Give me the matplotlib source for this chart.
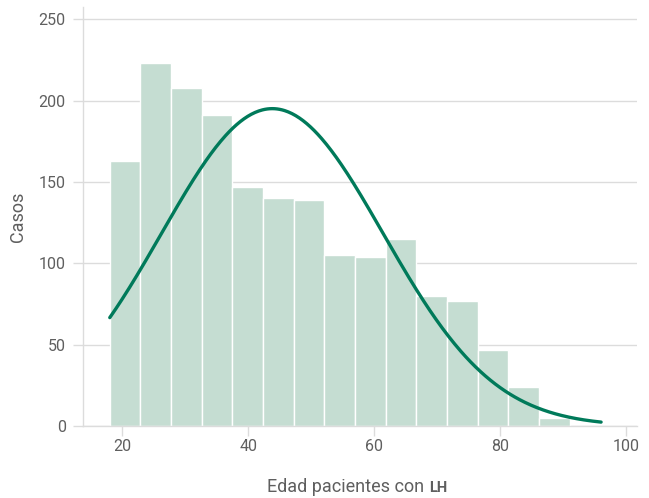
import numpy as np
import matplotlib
matplotlib.use("Agg")
import matplotlib.pyplot as plt
from matplotlib.offsetbox import TextArea, HPacker, AnchoredOffsetbox

plt.rcParams['font.family'] = ['Roboto', 'DejaVu Sans']

# Histogram of patient ages: 15 equal bins between 18 and 91 years
bin_start = 18.0
bin_end = 91.0
counts = [163, 223, 208, 191, 147, 140, 139, 105, 104, 115, 80, 77, 47, 24, 5]

# Fitted normal curve parameters
fit_mean = 43.8
fit_sd = 17.6
curve_from = 18.0
curve_to = 96.0

x_ticks = [20, 40, 60, 80, 100]
y_ticks = [0, 50, 100, 150, 200, 250]

bar_color = "#c5ddd2"
line_color = "#007a5a"
grid_color = "#dcdcdc"
text_color = "#5f5f5f"

edges = np.linspace(bin_start, bin_end, len(counts) + 1)
width = edges[1] - edges[0]
n_total = sum(counts)

fig = plt.figure(figsize=(6.49, 4.98), dpi=100)
ax = fig.add_axes([83 / 649, 1 - 426 / 498, (637 - 83) / 649, (426 - 7) / 498])

ax.bar(edges[:-1], counts, width=width, align="edge", color=bar_color,
       edgecolor="white", linewidth=1.0, zorder=2)

xs = np.linspace(curve_from, curve_to, 400)
ys = n_total * width / (fit_sd * np.sqrt(2 * np.pi)) * np.exp(-0.5 * ((xs - fit_mean) / fit_sd) ** 2)
ax.plot(xs, ys, color=line_color, linewidth=2.4, zorder=3, solid_capstyle="round")

ax.set_xlim(13.75, 101.7)
ax.set_ylim(0, 257.5)
ax.set_xticks(x_ticks)
ax.set_yticks(y_ticks)
ax.yaxis.grid(True, color=grid_color, linewidth=1.0, zorder=0)
ax.set_axisbelow(True)

for side in ("top", "right"):
    ax.spines[side].set_visible(False)
for side in ("left", "bottom"):
    ax.spines[side].set_color(grid_color)
    ax.spines[side].set_linewidth(1.0)

ax.tick_params(axis="both", colors=grid_color, length=7, width=1.0,
               labelcolor=text_color, labelsize=11.5)
ax.tick_params(axis="y", pad=5.5)
ax.tick_params(axis="x", pad=2)

ax.set_ylabel("Casos", color=text_color, fontsize=13, labelpad=8)

# x label with small-caps style abbreviation
part1 = TextArea("Edad pacientes con ", textprops=dict(color=text_color, fontsize=13))
part2 = TextArea("LH", textprops=dict(color=text_color, fontsize=10.5, fontweight="bold"))
box = HPacker(children=[part1, part2], align="baseline", pad=0, sep=0)
anchored = AnchoredOffsetbox(loc="center", child=box, frameon=False,
                             bbox_to_anchor=(357 / 649, 1 - 487 / 498),
                             bbox_transform=fig.transFigure, borderpad=0, pad=0)
fig.add_artist(anchored)

fig.savefig("out.png", dpi=100)
